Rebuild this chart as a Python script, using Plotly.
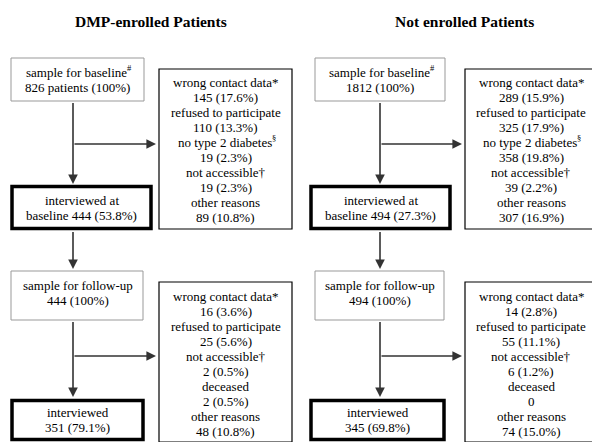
import plotly.graph_objects as go

# ---------------- data ----------------
groups = ["DMP-enrolled Patients", "Not enrolled Patients"]
baseline_sample_text = ["826 patients (100%)", "1812 (100%)"]
baseline_interviewed_n = [444, 494]
baseline_interviewed_pct = [53.8, 27.3]

# (reason, superscript mark)
baseline_reasons = [("wrong contact data*", ""), ("refused to participate", ""),
                    ("no type 2 diabetes", "§"), ("not accessible†", ""),
                    ("other reasons", "")]
baseline_counts_dmp = [145, 110, 19, 19, 89]
baseline_pcts_dmp = [17.6, 13.3, 2.3, 2.3, 10.8]
baseline_counts_not = [289, 325, 358, 39, 307]
baseline_pcts_not = [15.9, 17.9, 19.8, 2.2, 16.9]

followup_sample_n = [444, 494]
followup_reasons = [("wrong contact data*", ""), ("refused to participate", ""),
                    ("not accessible†", ""), ("deceased", ""), ("other reasons", "")]
followup_counts_dmp = [16, 25, 2, 2, 48]
followup_pcts_dmp = [3.6, 5.6, 0.5, 0.5, 10.8]
followup_counts_not = [14, 55, 6, 0, 74]
followup_pcts_not = [2.8, 11.1, 1.2, None, 15.0]

followup_interviewed_n = [351, 345]
followup_interviewed_pct = [79.1, 69.8]

# ---------------- layout helpers ----------------
FONT = "Liberation Serif"
SIZE = 13
SUP = 8.5
LINE = 15
LINECOL = "#333"

# approximate Times/Liberation Serif advance widths (per 1000 em)
W = {c: 500 for c in "0123456789bdghknopquvxy"}
W.update({"a": 444, "c": 444, "e": 444, "z": 444, "f": 333, "r": 333, "i": 278,
          "j": 278, "l": 278, "t": 278, "s": 389, "m": 778, "w": 722, " ": 250,
          "(": 333, ")": 333, "%": 833, ".": 250, "-": 333, "*": 500, "#": 500,
          "§": 500})


def text_width(s, size):
    return sum(W.get(ch, 500) for ch in s) * size / 1000.0


fig = go.Figure()
shapes = []
annotations = []


def text_line(text, cx, y, sup=""):
    if not sup:
        annotations.append(dict(x=cx, y=y, xref="x", yref="y", text=text,
                                showarrow=False, xanchor="center", yanchor="middle",
                                font=dict(family=FONT, size=SIZE, color="black")))
        return
    wt = text_width(text, SIZE)
    ws = text_width(sup, SUP) + 1
    left = cx - (wt + ws) / 2
    annotations.append(dict(x=left, y=y, xref="x", yref="y", text=text,
                            showarrow=False, xanchor="left", yanchor="middle",
                            font=dict(family=FONT, size=SIZE, color="black")))
    annotations.append(dict(x=left + wt, y=y - 4.5, xref="x", yref="y", text=sup,
                            showarrow=False, xanchor="left", yanchor="middle",
                            font=dict(family=FONT, size=SUP, color="black")))


def text_block(lines, cx, cy):
    n = len(lines)
    for i, item in enumerate(lines):
        t, s = item if isinstance(item, tuple) else (item, "")
        text_line(t, cx, cy + (i - (n - 1) / 2) * LINE, s)


def box(x0, y0, x1, y1, color, width):
    shapes.append(dict(type="rect", x0=x0, y0=y0, x1=x1, y1=y1, xref="x", yref="y",
                       line=dict(color=color, width=width), fillcolor="rgba(0,0,0,0)"))


def arrow(x0, y0, x1, y1):
    annotations.append(dict(x=x1, y=y1, ax=x0, ay=y0, xref="x", yref="y",
                            axref="x", ayref="y", text=" ", showarrow=True,
                            arrowhead=2, arrowsize=1.2, arrowwidth=1.6,
                            arrowcolor=LINECOL, font=dict(size=1)))


cols = [
    dict(lx0=3, lx1=136, bx0=3, bx1=144, line_x=65, title_x=143, rb0=151, rb1=284),
    dict(lx0=307, lx1=437, bx0=302, bx1=443, line_x=372, title_x=456, rb0=457, rb1=589),
]

for g in range(2):
    c = cols[g]
    annotations.append(dict(x=c["title_x"], y=13, xref="x", yref="y",
                            text="<b>" + groups[g] + "</b>", showarrow=False,
                            font=dict(family=FONT, size=15.5, color="black")))
    lx0, lx1, lx = c["lx0"], c["lx1"], c["line_x"]
    cx = (lx0 + lx1) / 2
    rcx = (c["rb0"] + c["rb1"]) / 2
    bx0, bx1 = c["bx0"], c["bx1"]

    # ---- baseline ----
    box(lx0, 50, lx1, 93, "#999", 1)
    text_block([("sample for baseline", "#"), baseline_sample_text[g]], cx, 71.5)
    arrow(lx, 93, lx, 176)
    arrow(lx, 136, c["rb0"] - 3, 136)
    box(c["rb0"], 61, c["rb1"], 221, "black", 1.2)
    cnts = baseline_counts_dmp if g == 0 else baseline_counts_not
    pcts = baseline_pcts_dmp if g == 0 else baseline_pcts_not
    lines = []
    for (r, s), n_, p in zip(baseline_reasons, cnts, pcts):
        lines.append((r, s))
        lines.append(f"{n_} ({p:.1f}%)")
    text_block(lines, rcx, 142)
    box(bx0 + 1, 178.5, bx1 - 1, 220.5, "black", 3.5)
    text_block(["interviewed at",
                f"baseline {baseline_interviewed_n[g]} ({baseline_interviewed_pct[g]:.1f}%)"],
               (bx0 + bx1) / 2, 200)

    # ---- follow-up ----
    arrow(lx, 222, lx, 261)
    box(lx0, 263, lx1 - 1, 312, "#999", 1)
    text_block(["sample for follow-up", f"{followup_sample_n[g]} (100%)"], cx, 285)
    arrow(lx, 312, lx, 389)
    arrow(lx, 348, c["rb0"] - 3, 348)
    box(c["rb0"], 274, c["rb1"], 434, "black", 1.2)
    cnts = followup_counts_dmp if g == 0 else followup_counts_not
    pcts = followup_pcts_dmp if g == 0 else followup_pcts_not
    lines = []
    for (r, s), n_, p in zip(followup_reasons, cnts, pcts):
        lines.append((r, s))
        lines.append(f"{n_} ({p:.1f}%)" if p is not None else f"{n_}")
    text_block(lines, rcx, 356)
    box(bx0 + 1, 392.5, lx1 - 1, 431.5, "black", 3.5)
    text_block(["interviewed",
                f"{followup_interviewed_n[g]} ({followup_interviewed_pct[g]:.1f}%)"],
               (bx0 + lx1) / 2, 412)

fig.update_layout(
    width=600, height=442, margin=dict(l=0, r=0, t=0, b=0),
    paper_bgcolor="white", plot_bgcolor="white",
    xaxis=dict(range=[0, 600], visible=False, fixedrange=True),
    yaxis=dict(range=[442, 0], visible=False, fixedrange=True),
    shapes=shapes, annotations=annotations, showlegend=False,
)
fig.write_html("out.html")
